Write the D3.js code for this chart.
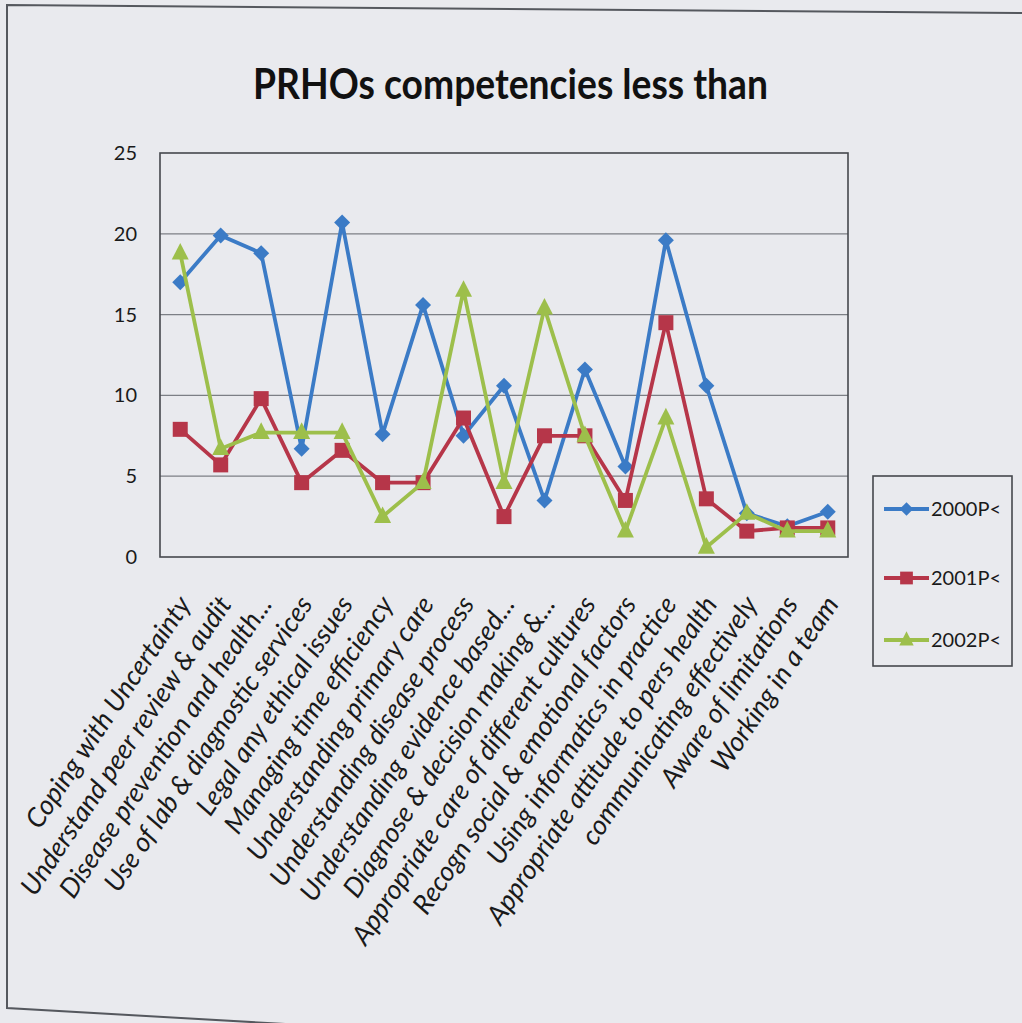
<!DOCTYPE html>
<html><head><meta charset="utf-8">
<script src="https://cdn.jsdelivr.net/npm/d3@7"></script>
<style>
html,body{margin:0;padding:0;background:#e9eaee;}
svg{display:block;}
</style></head>
<body>
<script>
const categories = [
  "Coping with Uncertainty",
  "Understand peer review & audit",
  "Disease prevention and health...",
  "Use of lab & diagnostic services",
  "Legal any ethical issues",
  "Managing time efficiency",
  "Understanding primary care",
  "Understanding disease process",
  "Understanding evidence based...",
  "Diagnose & decision making &...",
  "Appropriate care of different cultures",
  "Recogn social & emotional factors",
  "Using informatics in practice",
  "Appropriate attitude to pers health",
  "communicating effectively",
  "Aware of limitations",
  "Working in a team"
];
const s2000 = [17, 19.9, 18.8, 6.7, 20.7, 7.6, 15.6, 7.5, 10.6, 3.5, 11.6, 5.6, 19.6, 10.6, 2.7, 1.9, 2.8];
const s2001 = [7.9, 5.7, 9.8, 4.6, 6.6, 4.6, 4.6, 8.6, 2.5, 7.5, 7.5, 3.5, 14.5, 3.6, 1.6, 1.8, 1.8];
const s2002 = [18.8, 6.7, 7.7, 7.7, 7.7, 2.5, 4.6, 16.5, 4.6, 15.4, 7.5, 1.6, 8.6, 0.6, 2.7, 1.6, 1.6];
const seriesNames = ["2000P<", "2001P<", "2002P<"];
const yTicks = [0, 5, 10, 15, 20, 25];
const chartTitle = "PRHOs competencies less than";

(function () {
const W = 1022, H = 1023;
const pLeft = 160, pRight = 848, pTop = 153, pBottom = 557;
const colors = ["#3b7bc6", "#b63649", "#9dbf4b"];
const markers = ["diamond", "square", "triangle"];
const seriesData = [s2000, s2001, s2002];

const svg = d3.select("body").append("svg").attr("width", W).attr("height", H);
svg.append("rect").attr("width", W).attr("height", H).attr("fill", "#e9eaee");

// outer frame
svg.append("path")
  .attr("d", `M${W+5},13 L7,5 L7,1008 L320,1026`)
  .attr("fill", "none").attr("stroke", "#55585e").attr("stroke-width", 2);

const x = d3.scalePoint().domain(categories).range([pLeft, pRight]).padding(0.5);
const y = d3.scaleLinear().domain([0, 25]).range([pBottom, pTop]);

// gridlines
svg.append("g").selectAll("line").data(yTicks.slice(1, -1)).join("line")
  .attr("x1", pLeft).attr("x2", pRight)
  .attr("y1", d => y(d)).attr("y2", d => y(d))
  .attr("stroke", "#7c7f85").attr("stroke-width", 1.3);

// plot border
svg.append("rect").attr("x", pLeft).attr("y", pTop)
  .attr("width", pRight - pLeft).attr("height", pBottom - pTop)
  .attr("fill", "none").attr("stroke", "#45484d").attr("stroke-width", 1.6);

// y axis labels
const yAxis = d3.axisLeft(y).tickValues(yTicks).tickSize(0).tickPadding(23);
const ga = svg.append("g").attr("transform", `translate(${pLeft},0)`).call(yAxis);
ga.select(".domain").remove();
ga.selectAll("text").attr("font-family", "Lato, 'Open Sans', sans-serif")
  .attr("font-size", 20).attr("fill", "#1a1a1a");

// x axis labels
const gx = svg.append("g");
gx.selectAll("text").data(categories).join("text")
  .attr("transform", d => `translate(${x(d) + 4},${pBottom + 42}) rotate(-56)`)
  .attr("text-anchor", "end")
  .attr("dy", "0.35em")
  .attr("font-family", "Lato, 'Open Sans', sans-serif")
  .attr("font-style", "italic")
  .attr("font-size", 27)
  .attr("fill", "#1a1a1a")
  .text(d => d);

// title
svg.append("text").attr("x", 253).attr("y", 99)
  .attr("textLength", 515).attr("lengthAdjust", "spacingAndGlyphs")
  .attr("font-family", "Lato, 'Open Sans', sans-serif")
  .attr("font-weight", "bold").attr("font-size", 42)
  .attr("fill", "#111")
  .text(chartTitle);

function markerPath(type, s) {
  if (type === "diamond") return `M0,${-s} L${s},0 L0,${s} L${-s},0 Z`;
  if (type === "square") return `M${-s},${-s} L${s},${-s} L${s},${s} L${-s},${s} Z`;
  return `M0,${-s * 1.2} L${s},${s * 0.75} L${-s},${s * 0.75} Z`;
}
const msize = [8, 7.5, 8.5];

const line = d3.line().x((d, i) => x(categories[i])).y(d => y(d));
seriesData.forEach((vals, k) => {
  const g = svg.append("g");
  g.append("path").datum(vals).attr("d", line)
    .attr("fill", "none").attr("stroke", colors[k]).attr("stroke-width", 3.8)
    .attr("stroke-linejoin", "round");
  g.selectAll("path.m").data(vals).join("path").attr("class", "m")
    .attr("transform", (d, i) => `translate(${x(categories[i])},${y(d)})`)
    .attr("d", markerPath(markers[k], msize[k]))
    .attr("fill", colors[k]);
});

// legend
const lg = svg.append("g");
lg.append("rect").attr("x", 873).attr("y", 476).attr("width", 139).attr("height", 190)
  .attr("fill", "none").attr("stroke", "#45484d").attr("stroke-width", 1.6);
const ly = [509, 578, 640];
seriesNames.forEach((n, k) => {
  lg.append("line").attr("x1", 884).attr("x2", 929).attr("y1", ly[k]).attr("y2", ly[k])
    .attr("stroke", colors[k]).attr("stroke-width", 3.8);
  lg.append("path").attr("transform", `translate(906.5,${ly[k]})`)
    .attr("d", markerPath(markers[k], msize[k] * 0.85)).attr("fill", colors[k]);
  lg.append("text").attr("x", 931).attr("y", ly[k]).attr("dy", "0.36em")
    .attr("font-family", "Lato, 'Open Sans', sans-serif").attr("font-size", 20)
    .attr("fill", "#1a1a1a").text(n);
});
})();
</script>
</body></html>
